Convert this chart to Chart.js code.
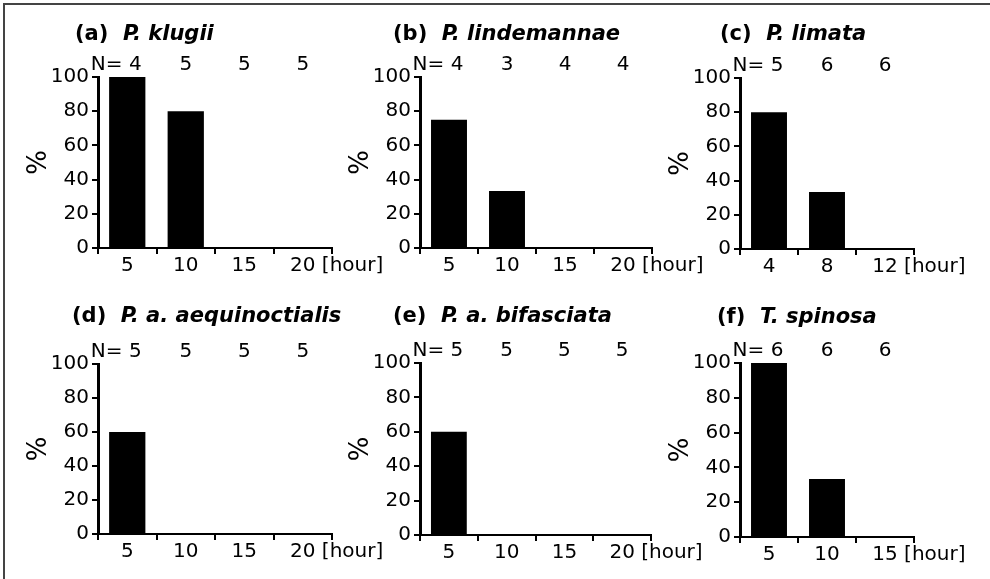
<!DOCTYPE html>
<html><head><meta charset="utf-8">
<script src="https://cdn.jsdelivr.net/npm/chart.js@4.4.1/dist/chart.umd.min.js"></script>
<style>
html,body{margin:0;padding:0;background:#fff;}
#wrap{position:relative;width:990px;height:579px;overflow:hidden;background:#fff;}
#frame{position:absolute;left:3px;top:3px;width:1000px;height:600px;border-top:2px solid #444;border-left:2px solid #444;}
canvas{position:absolute;left:0;top:0;}
</style></head><body>
<div id="wrap"><div id="frame"></div>
<canvas id="c0" width="990" height="579"></canvas>
<canvas id="c1" width="990" height="579"></canvas>
<canvas id="c2" width="990" height="579"></canvas>
<canvas id="c3" width="990" height="579"></canvas>
<canvas id="c4" width="990" height="579"></canvas>
<canvas id="c5" width="990" height="579"></canvas>
</div>
<script>
// ---- data ----
const panelLetters = ['(a)', '(b)', '(c)', '(d)', '(e)', '(f)'];
const speciesNames = ['P. klugii', 'P. lindemannae', 'P. limata', 'P. a. aequinoctialis', 'P. a. bifasciata', 'T. spinosa'];
const hoursA = ['5', '10', '15', '20'];
const hoursB = ['5', '10', '15', '20'];
const hoursC = ['4', '8', '12'];
const hoursD = ['5', '10', '15', '20'];
const hoursE = ['5', '10', '15', '20'];
const hoursF = ['5', '10', '15'];
const pctA = [100, 80, 0, 0];
const pctB = [75, 33.3, 0, 0];
const pctC = [80, 33.3, 0];
const pctD = [60, 0, 0, 0];
const pctE = [60, 0, 0, 0];
const pctF = [100, 33.3, 0];
const nA = [4, 5, 5, 5];
const nB = [4, 3, 4, 4];
const nC = [5, 6, 6];
const nD = [5, 5, 5, 5];
const nE = [5, 5, 5, 5];
const nF = [6, 6, 6];
const yTicks = [0, 20, 40, 60, 80, 100];
const unitLabel = '[hour]';
const yLabel = '%';

// ---- layout (plot-area frames) ----
const frames = [
  {left: 98,  right: 332, top: 77,  bottom: 248, tdx: -23, tdy: -42},
  {left: 420, right: 652, top: 77,  bottom: 248, tdx: -27, tdy: -42},
  {left: 740, right: 914, top: 78,  bottom: 249, tdx: -20, tdy: -43},
  {left: 98,  right: 332, top: 364, bottom: 534, tdx: -26, tdy: -47},
  {left: 420, right: 651, top: 363, bottom: 535, tdx: -27, tdy: -46},
  {left: 740, right: 914, top: 363, bottom: 537, tdx: -23, tdy: -45}
];
const hoursList = [hoursA, hoursB, hoursC, hoursD, hoursE, hoursF];
const pctList = [pctA, pctB, pctC, pctD, pctE, pctF];
const nList = [nA, nB, nC, nD, nE, nF];

const FONT = 'DejaVu Sans';
Chart.defaults.font.family = FONT;
Chart.defaults.color = '#000';

const Y_AXIS_W = 72, X_AXIS_H = 40, TICK_LEN = 6, XPAD = 2;

const decoPlugin = {
  id: 'panelDeco',
  afterDraw(chart, args, opts) {
    const {ctx, chartArea} = chart;
    const x = chart.scales.x;
    ctx.save();
    ctx.fillStyle = '#000';
    ctx.textBaseline = 'middle';
    // panel title
    ctx.textAlign = 'left';
    ctx.font = 'bold 21px "' + FONT + '"';
    let tx = chartArea.left + opts.tdx;
    const ty = chartArea.top + opts.tdy;
    ctx.fillText(opts.letter, tx, ty);
    tx += ctx.measureText(opts.letter + '  ').width;
    ctx.font = 'italic bold 21px "' + FONT + '"';
    ctx.fillText(opts.species, tx, ty);
    // N labels
    ctx.font = '20px "' + FONT + '"';
    const ny = chartArea.top - 12;
    opts.n.forEach((v, i) => {
      const px = x.getPixelForValue(i);
      const s = String(v);
      if (i === 0) {
        ctx.textAlign = 'right';
        const w = ctx.measureText(s).width;
        ctx.fillText('N= ' + s, px + w / 2 + 8, ny);
      } else {
        ctx.textAlign = 'center';
        ctx.fillText(s, px, ny);
      }
    });
    // unit after last x label
    const labels = chart.data.labels;
    const last = labels.length - 1;
    const lp = x.getPixelForValue(last);
    const lw = ctx.measureText(labels[last]).width;
    ctx.textAlign = 'left';
    ctx.fillText(' ' + opts.unit, lp + lw / 2, chartArea.bottom + TICK_LEN + XPAD + 10);
    ctx.restore();
  }
};

frames.forEach((f, k) => {
  new Chart(document.getElementById('c' + k), {
    type: 'bar',
    data: {
      labels: hoursList[k],
      datasets: [{
        data: pctList[k],
        backgroundColor: '#000',
        borderWidth: 0,
        barPercentage: 0.62,
        categoryPercentage: 1
      }]
    },
    plugins: [decoPlugin],
    options: {
      responsive: false,
      animation: false,
      devicePixelRatio: 1,
      events: [],
      layout: {
        padding: {
          left: f.left - Y_AXIS_W,
          right: 990 - f.right,
          top: f.top,
          bottom: 579 - f.bottom - X_AXIS_H
        }
      },
      plugins: {
        legend: {display: false},
        tooltip: {enabled: false},
        title: {display: false},
        panelDeco: {
          letter: panelLetters[k],
          species: speciesNames[k],
          n: nList[k],
          unit: unitLabel,
          tdx: f.tdx,
          tdy: f.tdy
        }
      },
      scales: {
        x: {
          type: 'category',
          offset: true,
          afterFit(s) { s.height = X_AXIS_H; },
          grid: {
            display: true, offset: true, drawOnChartArea: false, drawTicks: true,
            tickLength: TICK_LEN, color: '#000', lineWidth: 2
          },
          border: {display: true, color: '#000', width: 2},
          ticks: {color: '#000', padding: XPAD, font: {size: 20, lineHeight: 1}, maxRotation: 0, autoSkip: false}
        },
        y: {
          min: 0, max: 100,
          afterFit(s) { s.width = Y_AXIS_W; },
          afterBuildTicks(s) { s.ticks = yTicks.map(v => ({value: v})); },
          grid: {
            display: true, drawOnChartArea: false, drawTicks: true,
            tickLength: TICK_LEN, color: '#000', lineWidth: 2
          },
          border: {display: true, color: '#000', width: 3},
          ticks: {color: '#000', padding: 3, font: {size: 20, lineHeight: 1}},
          title: {display: true, text: yLabel, color: '#000', padding: 0, font: {size: 26, lineHeight: 1}}
        }
      }
    }
  });
});
</script>
</body></html>
